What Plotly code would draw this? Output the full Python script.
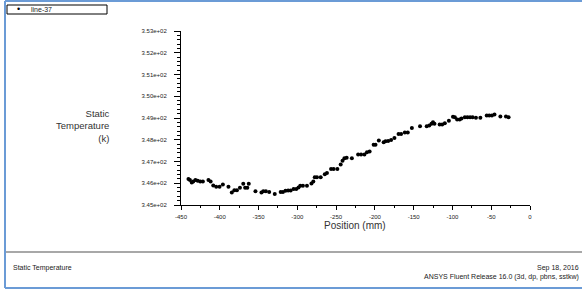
import plotly.graph_objects as go

# ---- data ----
position_mm = [-440.4, -438.5, -436.1, -434.2, -431.4, -428.5, -425.2, -421.8, -414.6, -411.8,
               -408.4, -404.6, -400.3, -396.0, -388.8, -384.5, -381.2, -377.9, -374.0, -369.7,
               -367.3, -364.5, -362.6, -354.0, -346.3, -343.9, -340.6, -336.3, -329.1, -321.5,
               -318.6, -315.3, -311.9, -308.6, -304.8, -301.4, -298.5, -296.2, -292.8, -287.6,
               -281.8, -279.4, -277.5, -274.7, -269.9, -264.6, -261.8, -256.5, -253.2, -248.4,
               -244.1, -241.7, -239.3, -236.4, -229.7, -221.6, -217.8, -213.5, -210.2, -206.8,
               -201.6, -199.2, -194.9, -188.7, -186.3, -182.9, -179.1, -174.8, -169.5, -166.2,
               -161.4, -157.6, -152.3, -141.8, -133.2, -129.9, -127.0, -125.1, -123.2, -116.5,
               -113.2, -109.8, -104.6, -99.3, -96.9, -94.0, -90.7, -88.3, -84.0, -80.7,
               -77.3, -74.0, -69.7, -64.0, -55.8, -52.5, -49.1, -45.8, -38.2, -31.0, -27.6]
static_temperature_k = [346.19, 346.15, 346.04, 346.08, 346.15, 346.11, 346.08, 346.08, 346.15, 346.08,
                        345.90, 345.84, 345.84, 345.94, 345.84, 345.57, 345.68, 345.68, 345.79, 345.98,
                        345.79, 345.79, 345.98, 345.63, 345.57, 345.63, 345.63, 345.60, 345.51, 345.60,
                        345.60, 345.65, 345.67, 345.67, 345.74, 345.74, 345.80, 345.88, 345.88, 345.88,
                        345.99, 346.08, 346.28, 346.28, 346.28, 346.41, 346.47, 346.66, 346.66, 346.66,
                        346.86, 347.03, 347.15, 347.17, 347.15, 347.32, 347.32, 347.32, 347.43, 347.46,
                        347.77, 347.77, 347.97, 347.89, 347.93, 347.94, 347.99, 348.08, 348.27, 348.27,
                        348.33, 348.33, 348.54, 348.62, 348.62, 348.65, 348.73, 348.81, 348.73, 348.70,
                        348.70, 348.76, 348.87, 349.06, 349.04, 348.93, 348.93, 348.98, 349.04, 349.04,
                        349.04, 349.04, 349.01, 349.01, 349.12, 349.12, 349.12, 349.16, 349.07, 349.07, 349.04]

x_tick_vals = [-450, -400, -350, -300, -250, -200, -150, -100, -50, 0]
x_tick_text = ["-450", "-400", "-350", "-300", "-250", "-200", "-150", "-100", "-50", "0"]
y_tick_vals = [345, 346, 347, 348, 349, 350, 351, 352, 353]
y_tick_text = ["3.45e+02", "3.46e+02", "3.47e+02", "3.48e+02", "3.49e+02",
               "3.50e+02", "3.51e+02", "3.52e+02", "3.53e+02"]

series_name = "line-37"
y_title = "Static<br>Temperature<br>(k)"
x_title = "Position (mm)"
footer_left = "Static Temperature"
footer_date = "Sep 18, 2016"
footer_release = "ANSYS Fluent Release 16.0 (3d, dp, pbns, sstkw)"

# ---- layout geometry (pixels) ----
W, H = 582, 290
L, R, T, B = 181, 530, 31, 205
FONT = "Liberation Sans, Arial, sans-serif"


def fx(px):
    return (px - L) / (R - L)


def fy(py):
    return (B - py) / (B - T)


fig = go.Figure()
fig.add_trace(go.Scatter(
    x=position_mm, y=static_temperature_k, mode="markers", name=series_name,
    marker=dict(color="black", size=4), showlegend=False,
))

axis_common = dict(
    showline=True, linecolor="black", linewidth=1, showgrid=False, zeroline=False,
    ticks="outside", tickcolor="black", tickwidth=1,
    tickfont=dict(family=FONT, size=6, color="#222222"),
)

fig.update_xaxes(
    range=[-450, 0], tickmode="array", tickvals=x_tick_vals, ticktext=x_tick_text,
    ticklen=4, ticklabelstandoff=2,
    minor=dict(dtick=25, ticklen=2, ticks="outside", tickcolor="black"),
    **axis_common,
)
fig.update_yaxes(
    range=[345, 353], tickmode="array", tickvals=y_tick_vals, ticktext=y_tick_text,
    ticklen=6, ticklabelstandoff=6,
    minor=dict(dtick=0.2, ticklen=3, ticks="outside", tickcolor="black"),
    **axis_common,
)

frame = dict(color="#6b9bd6", width=2)
shapes = [
    # outer window frame (top, left, bottom edges only)
    dict(type="line", x0=fx(5), x1=fx(582), y0=fy(1), y1=fy(1), line=frame),
    dict(type="line", x0=fx(5), x1=fx(5), y0=fy(1), y1=fy(288), line=frame),
    dict(type="line", x0=fx(5), x1=fx(582), y0=fy(288), y1=fy(288), line=frame),
    # footer separator
    dict(type="line", x0=fx(6), x1=fx(582), y0=fy(252), y1=fy(252),
         line=dict(color="#a8a8a8", width=2)),
    # legend box
    dict(type="rect", x0=fx(7), x1=fx(107), y0=fy(14), y1=fy(5),
         line=dict(color="black", width=1)),
]
for s in shapes:
    s.update(xref="paper", yref="paper", layer="above")

annotations = [
    dict(text="•", x=fx(18), y=fy(9.5), xanchor="center", yanchor="middle",
         font=dict(family=FONT, size=9, color="black")),
    dict(text=series_name, x=fx(30), y=fy(9.5), xanchor="left", yanchor="middle",
         font=dict(family=FONT, size=7, color="#222222")),
    dict(text=x_title, x=fx(355), y=fy(226), xanchor="center", yanchor="middle",
         font=dict(family=FONT, size=10, color="#333333")),
    dict(text=y_title, x=fx(111), y=fy(126), xanchor="right", yanchor="middle", align="right",
         font=dict(family=FONT, size=9.5, color="#333333")),
    dict(text=footer_left, x=fx(12), y=fy(268), xanchor="left", yanchor="middle",
         font=dict(family=FONT, size=7, color="#222222")),
    dict(text=footer_date, x=fx(580), y=fy(268), xanchor="right", yanchor="middle",
         font=dict(family=FONT, size=7, color="#222222")),
    dict(text=footer_release, x=fx(580), y=fy(277), xanchor="right", yanchor="middle",
         font=dict(family=FONT, size=7, color="#222222")),
]
for a in annotations:
    a.update(xref="paper", yref="paper", showarrow=False, borderpad=0)

fig.update_layout(
    width=W, height=H, autosize=False,
    margin=dict(l=L, r=W - R, t=T, b=H - B, pad=0),
    paper_bgcolor="white", plot_bgcolor="white",
    shapes=shapes, annotations=annotations,
    font=dict(family=FONT),
)

fig.write_html("out.html", config={"displayModeBar": False},
               post_script="document.body.style.margin='0';")
